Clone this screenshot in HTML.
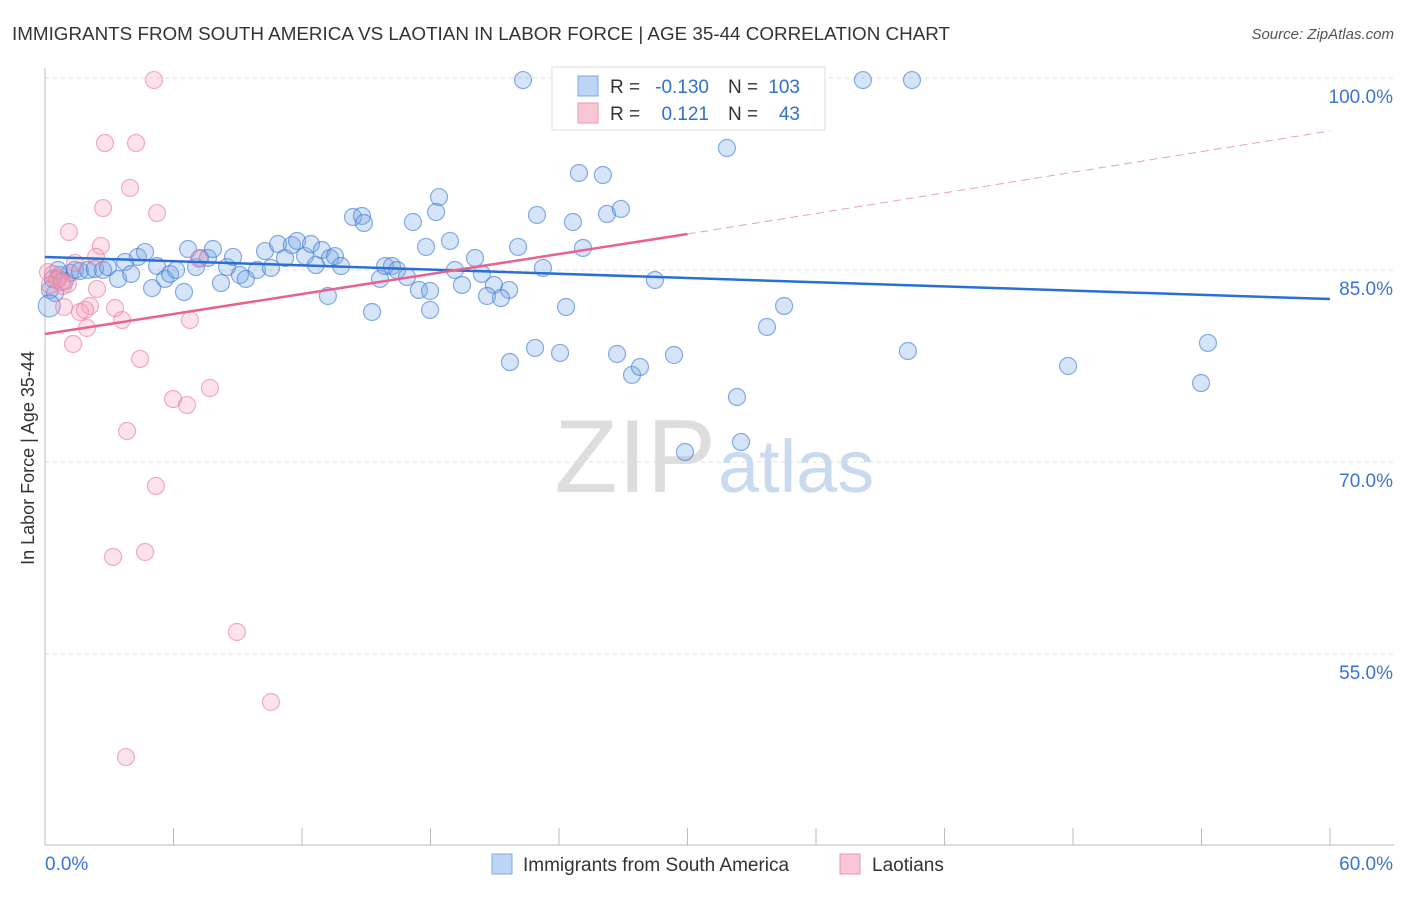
<!DOCTYPE html>
<html><head><meta charset="utf-8"><style>
body{margin:0;background:#fff;font-family:"Liberation Sans",sans-serif}
svg text{font-family:"Liberation Sans",sans-serif}
</style></head><body>
<svg id="c" width="1406" height="892">
<text x="12" y="40" font-size="18" fill="#333" textLength="938" lengthAdjust="spacingAndGlyphs">IMMIGRANTS FROM SOUTH AMERICA VS LAOTIAN IN LABOR FORCE | AGE 35-44 CORRELATION CHART</text>
<text x="1394" y="39" font-size="15" fill="#555" font-style="italic" text-anchor="end">Source: ZipAtlas.com</text>
<text x="34" y="458" font-size="18" fill="#333" text-anchor="middle" transform="rotate(-90 34 458)">In Labor Force | Age 35-44</text>
<g id="grid"></g>
<text x="716" y="492" font-size="104" fill="#ddd" font-family="Liberation Serif" text-anchor="end">ZIP</text>
<text x="718" y="492" font-size="74" fill="#c9d9ee">atlas</text>
<g id="marks"></g>
<g>
<rect x="552" y="67" width="273" height="63" fill="#fff" stroke="#ddd"/>
<rect x="578" y="76" width="20" height="20" fill="#bcd4f5" stroke="#7fa8e0"/>
<rect x="578" y="103" width="20" height="20" fill="#f9c6d5" stroke="#ec94b0"/>
<text x="610" y="93" font-size="19" fill="#333">R =</text>
<text x="709" y="93" font-size="19" fill="#2f6fd0" text-anchor="end">-0.130</text>
<text x="728" y="93" font-size="19" fill="#333">N =</text>
<text x="800" y="93" font-size="19" fill="#2f6fd0" text-anchor="end">103</text>
<text x="610" y="120" font-size="19" fill="#333">R =</text>
<text x="709" y="120" font-size="19" fill="#2f6fd0" text-anchor="end">0.121</text>
<text x="728" y="120" font-size="19" fill="#333">N =</text>
<text x="800" y="120" font-size="19" fill="#2f6fd0" text-anchor="end">43</text>
</g>
<g>
<rect x="492" y="854" width="20" height="20" fill="#bcd4f5" stroke="#7fa8e0"/>
<text x="523" y="871" font-size="19" fill="#333">Immigrants from South America</text>
<rect x="840" y="854" width="20" height="20" fill="#f9c6d5" stroke="#ec94b0"/>
<text x="872" y="871" font-size="19" fill="#333">Laotians</text>
</g>
</svg>
<script>
const yTicks=[100,85,70,55];
const yTickLabels=["100.0%","85.0%","70.0%","55.0%"];
const xTickLabels=["0.0%","60.0%"];
const blueX=[22.32,27.22,38.19,40.48,31.84,24.93,26.05,18.40,22.97,18.26,24.65,26.24,26.89,14.38,14.80,14.89,17.18,18.91,17.79,22.09,25.12,20.08,23.25,19.14,20.40,19.47,20.96,21.67,20.64,21.29,17.46,17.98,15.64,15.88,16.20,16.44,16.90,15.27,13.21,17.98,24.33,28.48,34.51,33.71,21.71,22.88,24.05,26.71,29.37,27.41,27.78,32.31,32.50,29.88,40.29,47.77,54.30,53.98,0.23,0.47,0.70,0.93,1.17,1.40,1.63,2.01,2.33,2.71,2.94,3.41,3.74,4.02,4.34,4.67,5.00,5.23,5.60,5.84,6.12,6.49,6.68,7.05,7.24,7.61,7.84,8.22,8.50,8.78,9.10,9.38,9.90,10.27,10.55,10.88,11.21,11.53,11.77,12.14,12.42,12.65,12.93,13.31,13.54,13.82,0.37,0.61,0.2];
const blueY=[99.84,99.84,99.84,99.84,94.53,92.58,92.42,90.70,89.30,89.53,88.75,89.38,89.77,89.14,89.22,88.67,88.75,87.27,86.80,86.80,86.72,85.94,85.16,85.00,84.69,83.83,83.83,83.44,82.97,82.81,83.44,83.36,84.30,85.31,85.31,85.00,84.45,81.72,82.97,81.88,82.11,84.22,82.19,80.55,77.81,78.91,78.52,78.44,78.36,76.80,77.42,75.08,71.56,70.78,78.67,77.50,79.30,76.17,83.44,83.20,84.61,84.14,84.77,85.00,84.92,85.00,85.08,85.00,85.23,84.30,85.63,84.69,86.02,86.41,83.59,85.31,84.30,84.69,85.00,83.28,86.64,85.23,85.94,85.94,86.64,83.98,85.23,86.02,84.61,84.30,85.00,86.48,85.16,87.03,85.94,86.95,87.27,86.09,87.03,85.39,86.56,85.94,86.09,85.31,84.30,85.00,82.2];
const pinkX=[5.09,2.80,4.25,3.97,2.71,5.23,1.12,2.61,2.38,7.19,1.40,0.14,0.37,0.61,0.84,1.07,2.43,2.10,1.63,1.87,3.27,3.60,0.89,1.31,1.96,6.77,4.44,7.70,5.98,6.63,3.83,5.18,4.67,3.18,8.96,10.55,3.78,0.56,0.23,0.79,24.79];
const pinkY=[99.84,94.92,94.92,91.41,89.84,89.45,87.97,86.88,86.02,85.86,85.55,84.84,84.69,84.38,83.75,83.91,83.52,82.19,81.72,81.88,82.03,81.09,82.11,79.22,80.47,81.09,78.05,75.78,74.92,74.45,72.42,68.13,62.97,62.58,56.72,51.25,46.95,84.22,83.83,84.06,99.84];
const blueTrend=[86.02,82.73];      // value at x=0, x=60
const pinkTrend=[80.0,87.81,95.86]; // at x=0, x=30, x=60
const NS="http://www.w3.org/2000/svg";
const X=v=>45+v/60*1285, Y=v=>78+(100-v)*12.8;
function mk(t,a,p){const e=document.createElementNS(NS,t);for(const k in a)e.setAttribute(k,a[k]);p.appendChild(e);return e;}
const g=document.getElementById('grid'),m=document.getElementById('marks');
yTicks.forEach((t,i)=>{
 const l=mk('line',{x1:45,x2:1394,y1:Y(t),y2:Y(t),stroke:'#ddd','stroke-dasharray':'4,4'},g);
 
 
 const tx=mk('text',{x:1393,y:Y(t)+25,'font-size':19,fill:'#3a74d4','text-anchor':'end'},g);
 tx.textContent=yTickLabels[i];
 
 
});
const ax=mk('line',{x1:45,x2:45,y1:68,y2:845,stroke:'#bbb'},g);


const bx=mk('line',{x1:45,x2:1394,y1:845,y2:845,stroke:'#bbb'},g);


for(let i=0;i<=10;i++){const t=mk('line',{x1:X(i*6),x2:X(i*6),y1:828,y2:845,stroke:'#bbb'},g);
 
 }
[[0,'start',45],[60,'end',1393]].forEach((d,i)=>{const t=mk('text',{x:d[2],y:870,'font-size':19,fill:'#3a74d4','text-anchor':d[1]},g);t.textContent=xTickLabels[i];
 
 });
blueX.forEach((x,i)=>{const c=mk('circle',{cx:X(x),cy:Y(blueY[i]),r:i==blueX.length-1?11:8.5,fill:'rgba(120,165,230,0.3)',stroke:'rgba(60,120,215,0.6)','stroke-width':1.2},m);
 
 });
pinkX.forEach((x,i)=>{const c=mk('circle',{cx:X(x),cy:Y(pinkY[i]),r:8.5,fill:'rgba(245,160,185,0.3)',stroke:'rgba(235,120,155,0.6)','stroke-width':1.2},m);
 
 });
const bl=mk('line',{x1:X(0),y1:Y(blueTrend[0]),x2:X(60),y2:Y(blueTrend[1]),stroke:'#2a6fd6','stroke-width':2.5},m);


const pl=mk('line',{x1:X(0),y1:Y(pinkTrend[0]),x2:X(30),y2:Y(pinkTrend[1]),stroke:'#e8628e','stroke-width':2.5},m);


const pd=mk('line',{x1:X(30),y1:Y(pinkTrend[1]),x2:X(60),y2:Y(pinkTrend[2]),stroke:'#e8a0b8','stroke-width':1,'stroke-dasharray':'8,5'},m);


</script>
</body></html>
